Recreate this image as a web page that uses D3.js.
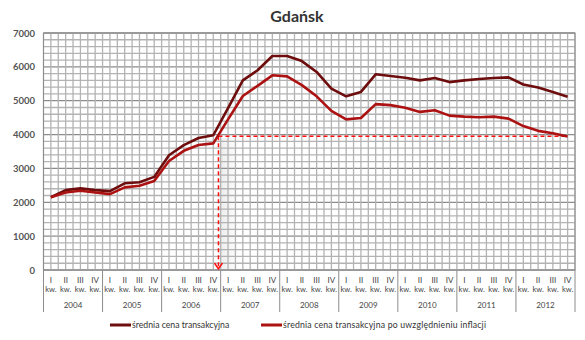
<!DOCTYPE html>
<html><head><meta charset="utf-8">
<script src="https://cdn.jsdelivr.net/npm/d3@7"></script>
<style>body{margin:0;background:#fff;} svg{display:block;} text{-webkit-font-smoothing:antialiased;}</style>
</head><body>
<svg id="c" width="585" height="340"></svg>
<script>
const title = "Gdańsk";
const years = ["2004","2005","2006","2007","2008","2009","2010","2011","2012"];
const quarterLabels = ["I","II","III","IV"];
const quarterSuffix = "kw.";
const yTicks = [0,1000,2000,3000,4000,5000,6000,7000];
const seriesNames = ["średnia cena transakcyjna","średnia cena transakcyjna po uwzględnieniu inflacji"];
const nominal = [2150,2360,2410,2360, 2330,2560,2590,2750, 3390,3690,3900,3980,
                 4780,5600,5900,6320, 6320,6170,5850,5360, 5130,5260,5780,5730,
                 5680,5600,5670,5550, 5600,5640,5670,5690, 5480,5390,5260,5120];
const real =    [2150,2290,2340,2290, 2240,2440,2490,2630, 3220,3520,3690,3740,
                 4450,5140,5440,5750, 5720,5460,5130,4700, 4450,4490,4900,4870,
                 4790,4670,4720,4560, 4530,4510,4530,4470, 4250,4110,4040,3940];
const refValue = 3950;        // reference level (dashed line)
const refQuarterPos = 11.85;  // position between 2006 Q4 and 2007 Q1 (in quarter units)

const colors = ["#6e0d0d","#ad1212"];

const svg = d3.select("#c");
const L = 43.5, R = 575, T = 33, B = 270;
const nQ = years.length*4;
const xq = d3.scaleLinear().domain([0,nQ]).range([L,R]);   // quarter-unit positions
const y = d3.scaleLinear().domain([0,7000]).range([B,T]);

// title
svg.append("text").attr("x",297).attr("y",22).attr("text-anchor","middle")
  .attr("font-family","Lato, 'Open Sans', sans-serif").attr("font-weight","bold")
  .attr("font-size",16).attr("fill","#333").text(title);

// grid
const g = svg.append("g");
d3.range(0,7001,200).forEach(v=>{
  g.append("line").attr("x1",L).attr("x2",R).attr("y1",y(v)).attr("y2",y(v))
   .attr("stroke", v%1000===0 ? "#8c8c8c" : "#b3b3b3").attr("stroke-width",1.3);
});
d3.range(0,nQ+0.01,0.5).forEach(q=>{
  g.append("line").attr("x1",xq(q)).attr("x2",xq(q)).attr("y1",T).attr("y2",B)
   .attr("stroke","#b3b3b3").attr("stroke-width",1.3);
});
g.append("rect").attr("x",L).attr("y",T).attr("width",R-L).attr("height",B-T)
 .attr("fill","none").attr("stroke","#8c8c8c").attr("stroke-width",1);

// soft shadow near dashed line
const defs = svg.append("defs");
const gr = defs.append("linearGradient").attr("id","sh").attr("x1","0").attr("x2","1");
gr.append("stop").attr("offset","0").attr("stop-color","#aaa").attr("stop-opacity",0.22);
gr.append("stop").attr("offset","1").attr("stop-color","#aaa").attr("stop-opacity",0);
svg.append("rect").attr("x",xq(refQuarterPos)+1).attr("y",y(refValue)+2)
  .attr("width",20).attr("height",B-y(refValue)-2).attr("fill","url(#sh)");

// y labels
svg.append("g").selectAll("text").data(yTicks).join("text")
  .attr("x",35).attr("y",d=>y(d)+3.5).attr("text-anchor","end")
  .attr("font-family","Lato, sans-serif").attr("font-weight","bold").attr("font-size",9.5)
  .attr("fill","#555").text(d=>d);

// x axis labels
const xa = svg.append("g").attr("font-family","Lato, sans-serif").attr("fill","#444");
for(let i=0;i<nQ;i++){
  const cx = xq(i+0.5);
  xa.append("text").attr("x",cx).attr("y",283).attr("text-anchor","middle").attr("font-size",8)
    .text(quarterLabels[i%4]);
  xa.append("text").attr("x",cx).attr("y",292).attr("text-anchor","middle").attr("font-size",7.5)
    .text(quarterSuffix);
}
years.forEach((yr,k)=>{
  xa.append("text").attr("x",xq(k*4+2)).attr("y",308).attr("text-anchor","middle").attr("font-size",8)
    .text(yr);
});
d3.range(0,years.length+1).forEach(k=>{
  svg.append("line").attr("x1",xq(k*4)).attr("x2",xq(k*4)).attr("y1",B).attr("y2",312)
    .attr("stroke","#8c8c8c").attr("stroke-width",1);
});

// dashed reference lines
const rx = xq(refQuarterPos), ry = y(refValue);
svg.append("line").attr("x1",rx).attr("x2",xq(nQ-0.5)).attr("y1",ry).attr("y2",ry)
  .attr("stroke","#ff1010").attr("stroke-width",1.5).attr("stroke-dasharray","4,3");
svg.append("line").attr("x1",rx).attr("x2",rx).attr("y1",ry).attr("y2",y(0)-1)
  .attr("stroke","#ff1010").attr("stroke-width",1.5).attr("stroke-dasharray","4,3");
svg.append("path").attr("d",`M${rx-4},${y(0)-7} L${rx},${y(0)-1} L${rx+4},${y(0)-7}`)
  .attr("fill","none").attr("stroke","#ff1010").attr("stroke-width",1.5);

// series lines
const line = d3.line().x((d,i)=>xq(i+0.5)).y(d=>y(d));
[nominal, real].forEach((s,k)=>{
  svg.append("path").datum(s).attr("d",line).attr("fill","none")
    .attr("stroke",colors[k]).attr("stroke-width",2.6).attr("stroke-linejoin","round");
});

// legend
const lg = svg.append("g").attr("font-family","Lato, sans-serif").attr("font-size",8.7).attr("fill","#333");
const legendX = [110, 261];
seriesNames.forEach((n,k)=>{
  lg.append("line").attr("x1",legendX[k]).attr("x2",legendX[k]+21).attr("y1",325).attr("y2",325)
    .attr("stroke",colors[k]).attr("stroke-width",3);
  const t = lg.append("text").attr("x",legendX[k]+22).attr("y",328).text(n);
  if(k===1) t.attr("textLength",203).attr("lengthAdjust","spacing");
});
</script>
</body></html>
